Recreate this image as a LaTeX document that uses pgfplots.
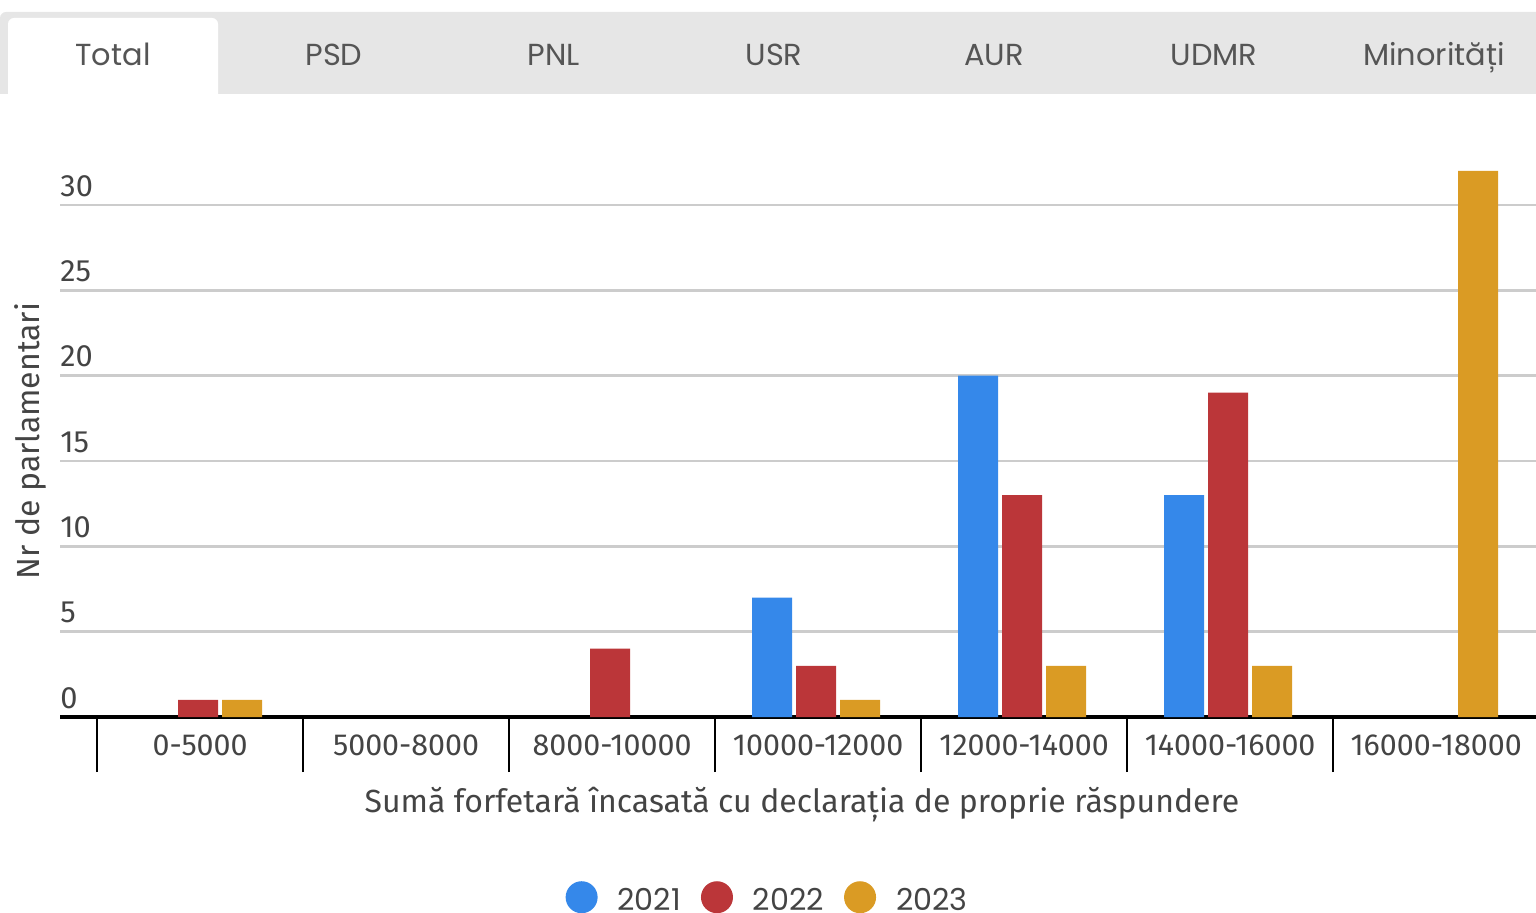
\documentclass[border=0pt]{standalone}
\usepackage{pgfplots}
\pgfplotsset{compat=1.18}
\usepackage{fontspec}
\setmainfont{Fira Sans}
\newfontfamily\tabfont{Poppins}
\definecolor{c21}{HTML}{3588EA}
\definecolor{c22}{HTML}{BB3639}
\definecolor{c23}{HTML}{DA9B24}
\definecolor{txt}{HTML}{444444}
\definecolor{tabtxt}{HTML}{555555}
\definecolor{gridc}{HTML}{CCCCCC}
\definecolor{tabbg}{HTML}{E6E6E6}
\begin{document}
\begin{tikzpicture}
\useasboundingbox (0,0) rectangle (768pt,456pt);
\clip (0,0) rectangle (768pt,456pt);
% tab bar
\fill[tabbg, rounded corners=3pt] (0pt,400pt) rectangle (775pt,450pt);
\fill[white, rounded corners=3pt] (4pt,400pt) rectangle (109pt,447pt);
\fill[white] (0pt,395pt) rectangle (768pt,409pt);
\foreach \x/\t in {56.5/Total,167/PSD,277/PNL,387/USR,497/AUR,607/UDMR,717/Minorități}
  \node[font=\tabfont\fontsize{15.2}{18}\selectfont, text=tabtxt, anchor=base, inner sep=0pt] at (\x pt,423pt) {\t};
\begin{axis}[
  at={(30pt,97.5pt)}, anchor=south west,
  x=103pt, y=8.5333pt,
  xmin=-0.68, xmax=6.485, ymin=0, ymax=33,
  axis x line=bottom, axis y line=left,
  x axis line style={line width=2.2pt, black, -},
  y axis line style={draw=none},
  ymajorgrids, grid style={gridc, line width=1.2pt},
  ytick={0,5,...,30},
  xtick={0,...,6},
  xticklabels={0-5000,5000-8000,8000-10000,10000-12000,12000-14000,14000-16000,16000-18000},
  major tick length=0pt,
  tick style={draw=none},
  extra x ticks={-0.5,0.5,1.5,2.5,3.5,4.5,5.5},
  extra x tick labels={},
  extra x tick style={grid=none, major tick length=27.5pt, tick align=outside, tick style={draw=black, line width=1pt}},
  /pgf/number format/assume math mode=true,
  yticklabel style={anchor=south west, inner sep=0pt, yshift=4pt, font=\fontsize{15.4}{18}\selectfont, text=txt},
  xticklabel style={anchor=north, inner sep=0pt, yshift=-8.5pt, font=\fontsize{15.2}{18}\selectfont, text=txt},
  xlabel={Sumă forfetară încasată cu declarația de proprie răspundere},
  xlabel style={at={(axis cs:2.922,-5.6)}, anchor=base, inner sep=0pt, font=\fontsize{16}{19}\selectfont, text=txt},
  ylabel={Nr de parlamentari},
  ylabel style={at={(axis cs:-0.825,16.17)}, anchor=center, rotate=0, inner sep=0pt, font=\fontsize{16}{19}\selectfont, text=txt},
  legend columns=3,
  legend image code/.code={\fill[#1,draw=none] (8pt,1.6pt) circle (8pt);},
  legend style={at={(axis cs:2.75,-10.56)}, anchor=center, draw=none, fill=none,
    font=\tabfont\fontsize{15.1}{18}\selectfont, text=txt,
    nodes={inner sep=0pt},
    /tikz/every odd column/.append style={column sep=10pt},
    /tikz/every even column/.append style={column sep=10pt}},
]
\addplot[ybar, bar width=20pt, bar shift=-23pt, fill=c21, draw=none] coordinates {(3,7) (4,20) (5,13)};
\addplot[ybar, bar width=20pt, bar shift=-1pt, fill=c22, draw=none] coordinates {(0,1) (2,4) (3,3) (4,13) (5,19)};
\addplot[ybar, bar width=20pt, bar shift=21pt, fill=c23, draw=none] coordinates {(0,1) (3,1) (4,3) (5,3) (6,32)};
\legend{2021,2022,2023}
\end{axis}
\end{tikzpicture}
\end{document}
